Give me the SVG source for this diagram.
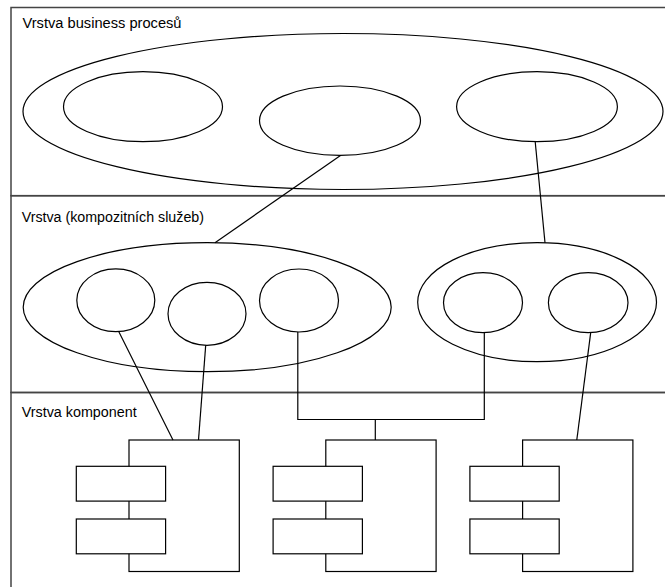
<svg xmlns="http://www.w3.org/2000/svg" width="665" height="587" viewBox="0 0 665 587">
<style>
.frame{fill:none;stroke:#444;stroke-width:1.5}
.shape{fill:#fff;stroke:#000;stroke-width:1.2}
.conn{fill:none;stroke:#000;stroke-width:1.2}
.lbl{font-family:"Liberation Sans",Arial,sans-serif;font-size:14px;fill:#000}
</style>
<rect width="665" height="587" fill="#fff"/>
<g id="layers">
<g id="layer-business">
<rect class="frame" x="11" y="7.5" width="700" height="188.2"/>
<text class="lbl" x="22.5" y="27.5" textLength="159" lengthAdjust="spacingAndGlyphs">Vrstva business procesů</text>
</g>
<g id="layer-services">
<rect class="frame" x="11" y="195.7" width="700" height="196.8"/>
<text class="lbl" x="21.7" y="221.5" textLength="182.3" lengthAdjust="spacingAndGlyphs">Vrstva (kompozitních služeb)</text>
</g>
<g id="layer-components">
<rect class="frame" x="11" y="392.5" width="700" height="220"/>
<text class="lbl" x="21.7" y="416.5" textLength="115" lengthAdjust="spacingAndGlyphs">Vrstva komponent</text>
</g>
</g>
<g id="process-group">
<ellipse class="shape" cx="343" cy="111.5" rx="320" ry="78"/>
</g>
<g id="process-1"><ellipse class="shape" cx="143" cy="106.7" rx="79.5" ry="35"/></g>
<g id="process-2"><ellipse class="shape" cx="340" cy="120.7" rx="80.5" ry="34.7"/></g>
<g id="process-3"><ellipse class="shape" cx="537" cy="106.7" rx="80.4" ry="35"/></g>
<g id="service-group-1"><ellipse class="shape" cx="207.2" cy="307.2" rx="184" ry="64.5"/></g>
<g id="service-group-2"><ellipse class="shape" cx="537.1" cy="302.2" rx="119.4" ry="59.5"/></g>
<g id="service-1"><ellipse class="shape" cx="115.8" cy="300.3" rx="39" ry="31.4"/></g>
<g id="service-2"><ellipse class="shape" cx="207" cy="313.8" rx="39" ry="31.5"/></g>
<g id="service-3"><ellipse class="shape" cx="299" cy="300.5" rx="39.5" ry="31.5"/></g>
<g id="service-4"><ellipse class="shape" cx="483" cy="302.7" rx="39.5" ry="30"/></g>
<g id="service-5"><ellipse class="shape" cx="588.2" cy="302.7" rx="39.8" ry="30"/></g>
<g id="component-1">
<rect class="shape" x="129" y="440" width="110.3" height="131.5"/>
<rect class="shape" x="76.3" y="466.3" width="89.3" height="34.8"/>
<rect class="shape" x="76.3" y="519" width="89.3" height="34.8"/>
</g>
<g id="component-2">
<rect class="shape" x="325.8" y="440" width="110.3" height="131.5"/>
<rect class="shape" x="273.1" y="466.3" width="89.3" height="34.8"/>
<rect class="shape" x="273.1" y="519" width="89.3" height="34.8"/>
</g>
<g id="component-3">
<rect class="shape" x="522.6" y="440" width="110.3" height="131.5"/>
<rect class="shape" x="469.9" y="466.3" width="89.3" height="34.8"/>
<rect class="shape" x="469.9" y="519" width="89.3" height="34.8"/>
</g>
<g id="connectors">
<line class="conn" x1="340.5" y1="155.4" x2="215" y2="242.7"/>
<line class="conn" x1="535.2" y1="141.7" x2="545" y2="242.7"/>
<line class="conn" x1="118.7" y1="331.5" x2="173" y2="440"/>
<line class="conn" x1="205.7" y1="345.3" x2="198.5" y2="440"/>
<polyline class="conn" points="297.8,332 297.8,419.5 484.3,419.5 484.3,332.7"/>
<line class="conn" x1="375.3" y1="419.5" x2="375.3" y2="440"/>
<line class="conn" x1="590.7" y1="332.7" x2="576.8" y2="440"/>
</g>
</svg>
